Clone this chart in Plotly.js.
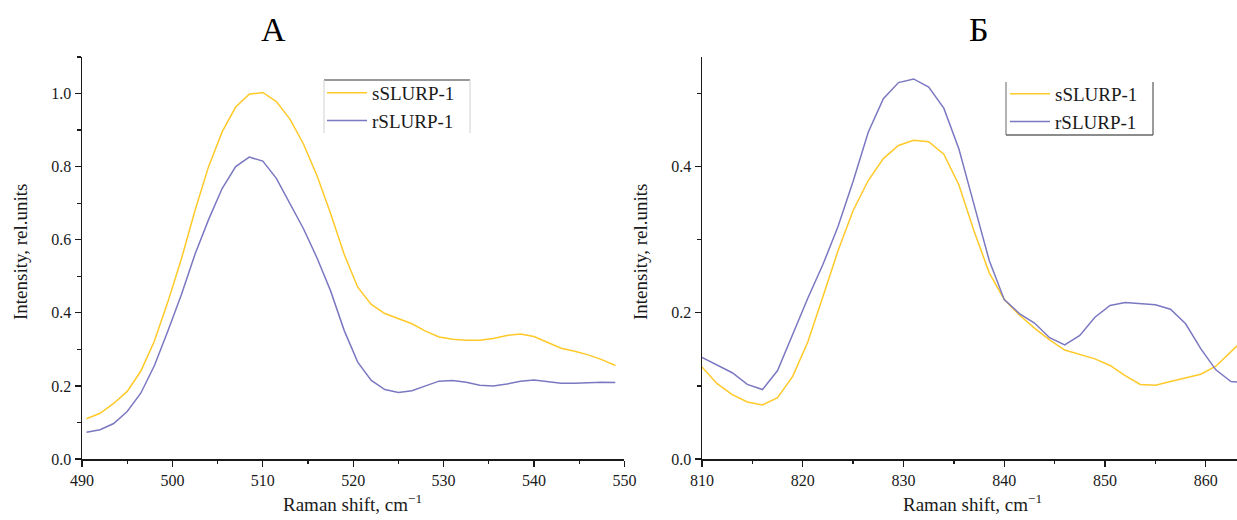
<!DOCTYPE html>
<html><head><meta charset="utf-8">
<script src="https://cdn.plot.ly/plotly-3.0.1.min.js"></script>
<style>html,body{margin:0;padding:0;background:#fff}#chart{width:1237px;height:520px}</style>
</head><body><div id="chart"></div>
<script>
// ---- Data ----
const seriesNames = ['sSLURP-1', 'rSLURP-1'];
const panelTitles = ['А', 'Б'];
const xTitle = 'Raman shift, cm<sup>−1</sup>';
const yTitle = 'Intensity, rel.units';

// Panel A
const shiftA = [490.5,492,493.5,495,496.5,498,499.5,501,502.5,504,505.5,507,508.5,510,511.5,513,514.5,516,517.5,519,
                520.5,522,523.5,525,526.5,528,529.5,531,532.5,534,535.5,537,538.5,540,541.5,543,544.5,546,547.5,549];
const sSLURP_A = [0.110,0.125,0.152,0.185,0.240,0.322,0.430,0.548,0.680,0.800,0.895,0.963,0.998,1.003,0.978,0.930,0.862,0.775,0.672,0.560,
                  0.470,0.423,0.398,0.385,0.370,0.350,0.334,0.328,0.325,0.325,0.330,0.338,0.342,0.335,0.318,0.303,0.295,0.285,0.272,0.256];
const rSLURP_A = [0.073,0.080,0.097,0.130,0.180,0.255,0.350,0.450,0.560,0.655,0.740,0.800,0.826,0.815,0.768,0.700,0.630,0.550,0.460,0.352,
                  0.265,0.215,0.190,0.182,0.187,0.200,0.213,0.215,0.210,0.202,0.200,0.205,0.213,0.216,0.212,0.207,0.207,0.209,0.210,0.209];

// Panel Б
const shiftB = [810,811.5,813,814.5,816,817.5,819,820.5,822,823.5,825,826.5,828,829.5,831,832.5,834,835.5,837,838.5,
                840,841.5,843,844.5,846,847.5,849,850.5,852,853.5,855,856.5,858,859.5,861,862.5,863.5];
const sSLURP_B = [0.126,0.103,0.088,0.078,0.074,0.084,0.113,0.160,0.222,0.285,0.340,0.381,0.411,0.429,0.436,0.434,0.417,0.375,0.312,0.255,
                  0.218,0.197,0.179,0.163,0.149,0.143,0.137,0.128,0.114,0.102,0.101,0.106,0.111,0.116,0.127,0.147,0.160];
const rSLURP_B = [0.139,0.128,0.118,0.102,0.095,0.121,0.171,0.220,0.266,0.318,0.380,0.447,0.493,0.515,0.520,0.509,0.480,0.424,0.348,0.272,
                  0.218,0.199,0.186,0.166,0.156,0.169,0.194,0.210,0.214,0.212,0.211,0.205,0.185,0.151,0.122,0.106,0.105];

const xTicksA = [490,500,510,520,530,540,550];
const xTicksB = [810,820,830,840,850,860];

// ---- Styling ----
const W = 1237, H = 520;
const colY = '#FFC928', colB = '#7B78C2';
const ink = '#1a1a1a';
const fx = v => v / W, fy = v => 1 - v / H;

const traces = [
  {x: shiftA, y: sSLURP_A, name: seriesNames[0], mode: 'lines', line: {color: colY, width: 1.5}, xaxis: 'x', yaxis: 'y', legend: 'legend'},
  {x: shiftA, y: rSLURP_A, name: seriesNames[1], mode: 'lines', line: {color: colB, width: 1.5}, xaxis: 'x', yaxis: 'y', legend: 'legend'},
  {x: shiftB, y: sSLURP_B, name: seriesNames[0], mode: 'lines', line: {color: colY, width: 1.5}, xaxis: 'x2', yaxis: 'y2', legend: 'legend2'},
  {x: shiftB, y: rSLURP_B, name: seriesNames[1], mode: 'lines', line: {color: colB, width: 1.5}, xaxis: 'x2', yaxis: 'y2', legend: 'legend2'}
];

const axBase = {
  showline: true, linecolor: ink, linewidth: 1.5, showgrid: false, zeroline: false,
  ticks: 'outside', ticklen: 6, tickwidth: 1.3, tickcolor: ink,
  tickfont: {size: 16, color: ink}, fixedrange: true
};
const yDom = [fy(459), fy(57)];
const ann = (text, x, y, size, extra) => Object.assign({text, x: fx(x), y: fy(y), xref: 'paper', yref: 'paper',
  xanchor: 'center', yanchor: 'middle', showarrow: false, font: {size, color: ink}}, extra || {});
const seg = (x0, y0, x1, y1, color, width) => ({type: 'line', xref: 'paper', yref: 'paper',
  x0: fx(x0), x1: fx(x1), y0: fy(y0), y1: fy(y1), line: {color, width}});

const layout = {
  width: W, height: H, margin: {l: 0, r: 0, t: 0, b: 0},
  paper_bgcolor: '#fff', plot_bgcolor: 'rgba(0,0,0,0)',
  font: {family: '"Liberation Serif", "Times New Roman", serif', color: ink, size: 16},
  showlegend: true,
  xaxis: Object.assign({}, axBase, {domain: [fx(82), fx(624.4)], range: [490, 550], anchor: 'y',
    tickmode: 'array', tickvals: xTicksA, ticktext: xTicksA.map(String),
    minor: {dtick: 5, tick0: 490, ticks: 'outside', ticklen: 3.5, tickwidth: 1.3, tickcolor: ink, showgrid: false}}),
  yaxis: Object.assign({}, axBase, {domain: yDom, range: [0, 1.1], anchor: 'x',
    tickmode: 'linear', tick0: 0, dtick: 0.2, tickformat: '.1f',
    minor: {dtick: 0.1, tick0: 0, ticks: 'outside', ticklen: 3.5, tickwidth: 1.3, tickcolor: ink, showgrid: false}}),
  xaxis2: Object.assign({}, axBase, {domain: [fx(702), 1], range: [810, 863.1], anchor: 'y2',
    tickmode: 'array', tickvals: xTicksB, ticktext: xTicksB.map(String),
    minor: {dtick: 5, tick0: 810, ticks: 'outside', ticklen: 3.5, tickwidth: 1.3, tickcolor: ink, showgrid: false}}),
  yaxis2: Object.assign({}, axBase, {domain: yDom, range: [0, 0.55], anchor: 'x2',
    tickmode: 'linear', tick0: 0, dtick: 0.2, tickformat: '.1f',
    minor: {dtick: 0.1, tick0: 0, ticks: 'outside', ticklen: 3.5, tickwidth: 1.3, tickcolor: ink, showgrid: false}}),
  legend: {x: fx(322), y: fy(74), xanchor: 'left', yanchor: 'top', bgcolor: 'rgba(0,0,0,0)',
    borderwidth: 0, font: {size: 19, color: ink}, itemwidth: 40, tracegroupgap: 0},
  legend2: {x: fx(1005), y: fy(75), xanchor: 'left', yanchor: 'top', bgcolor: 'rgba(0,0,0,0)',
    borderwidth: 0, font: {size: 19, color: ink}, itemwidth: 40, tracegroupgap: 0},
  annotations: [
    ann(panelTitles[0], 273, 29, 34, {font: {size: 34, color: '#000'}}),
    ann(panelTitles[1], 979, 29, 34, {font: {size: 34, color: '#000'}}),
    ann(xTitle, 352, 503, 19),
    ann(xTitle, 972, 503, 19),
    ann(yTitle, 20, 252, 19, {textangle: -90}),
    ann(yTitle, 640, 252, 19, {textangle: -90})
  ],
  shapes: [
    // legend A frame pieces
    seg(324, 80, 470, 80, '#333', 1),
    seg(324, 80, 324, 133, '#d0d0d0', 1),
    seg(470, 80, 470, 133, '#d0d0d0', 1),
    // legend Б frame pieces
    seg(1006, 82, 1006, 135, '#666', 1),
    seg(1153, 82, 1153, 135, '#666', 1.3),
    seg(1006, 135, 1153, 135, '#666', 1.3)
  ]
};

Plotly.newPlot('chart', traces, layout, {displayModeBar: false, staticPlot: true});
</script>
</body></html>
